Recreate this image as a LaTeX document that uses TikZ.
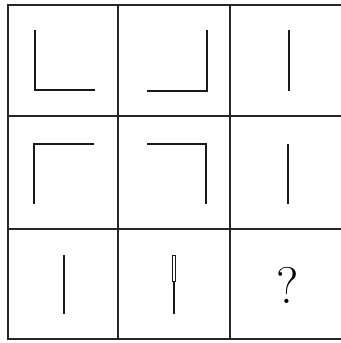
\documentclass[tikz,border=0pt]{standalone}
\usetikzlibrary{positioning}

\begin{document}
\begin{tikzpicture}[x=0.03cm, y=-0.03cm,
  grid/.style={line width=1.3pt, black!85},
  stroke/.style={line width=2pt, black!90},
  hollow/.style={line width=0.6pt, draw=black!90, fill=white},
  qmark/.style={font=\fontsize{44}{48}\selectfont, inner sep=0pt}]
\useasboundingbox (0,0) rectangle (340,343);
% frame and grid
\draw[grid] (8,5) rectangle (345,339);
\draw[grid] (118,5) -- (118,339);
\draw[grid] (230,5) -- (230,339);
\draw[grid] (8,116) -- (345,116);
\draw[grid] (8,229) -- (345,229);
% first row
\draw[stroke] (35,30) -- (35,90) -- (95,90);
\draw[stroke] (207,30) -- (207,91) -- (147,91);
\draw[stroke] (289,30) -- (289,91);
% second row
\draw[stroke] (34,204) -- (34,144) -- (94,144);
\draw[stroke] (147,144) -- (206,144) -- (206,204);
\draw[stroke] (288,144) -- (288,204);
% third row
\draw[stroke] (64,255) -- (64,314);
\draw[stroke] (174,281) -- (174,314);
\draw[hollow] (172.8,255) rectangle (175.4,281);
\node[qmark] (q) at (288,285) {?};
\end{tikzpicture}
\end{document}
